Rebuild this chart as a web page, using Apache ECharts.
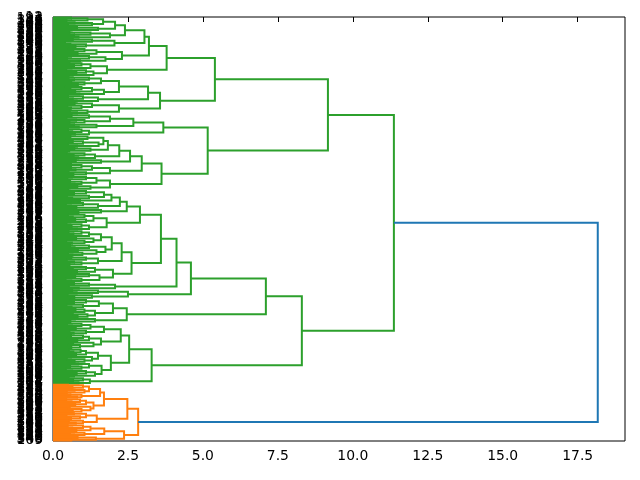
<!DOCTYPE html>
<html>
<head>
<meta charset="utf-8">
<script src="https://cdn.jsdelivr.net/npm/echarts@6/dist/echarts.min.js"></script>
<style>
html, body { margin: 0; padding: 0; background: #fff; }
#chart { width: 640px; height: 480px; }
</style>
</head>
<body>
<div id="chart"></div>
<script>
// merge tree: [distance, upper child, lower child], leaves are sample ids
const pUpper = [2.4, [2.07, [1.67, [1.15, [0.6, 12, 191], [0.45, 326, 147]], [1.3, [0.72, 88, 267], [0.5, 184, 5]]], [1.5, [0.8, 71, 250], [0.62, 298, 119]]], [1.9, [1.25, [0.55, 54, 233], [0.7, 281, 102]], [0.85, 26, 205]]];
const pLower = [2.05, [1.3, [0.66, 63, 242], [0.4, 319, 140]], [1.1, [0.58, 8, 187], [0.75, 350, 171]]];
const qLower = [2.3, [1.45, [1.05, [0.5, 33, 212], [0.68, 337, 158]], [0.82, 97, 276]], [1.75, [1.2, [0.6, 223, 44], [0.47, 121, 300]], [0.9, 3, 182]]];
const rLower = [1.8, [1.25, [0.95, [0.55, 67, 246], [0.7, 329, 150]], [0.62, 19, 198]], [1.35, [1.1, [0.44, 112, 291], [0.78, 264, 85]], [0.66, 40, 219]]];
const sUpper = [2.2, [1.6, [1.2, [0.52, 135, 314], [0.7, 186, 7]], [1.05, [0.61, 61, 240], [0.83, 355, 176]]], [1.7, [1.3, [0.95, [0.4, 24, 203], [0.58, 272, 93]], [0.74, 156, 335]], [0.88, 48, 227]]];
const sLower = [1.5, [1.0, [0.5, 110, 289], [0.66, 181, 2]], [0.79, 79, 258]];
const tLower = [2.2, [1.3, [0.72, 128, 307], [0.95, [0.48, 36, 215], [0.6, 345, 166]]], [1.15, [0.56, 59, 238], [0.8, 269, 90]]];
const groupA1 = [5.4,
  [3.79, [3.2, [3.05, pUpper, pLower], qLower], rLower],
  [3.57, [3.17, sUpper, sLower], tLower]];

const uUpper = [2.68, [1.9, [1.2, [0.62, 17, 196], [0.45, 283, 104]], [1.05, [0.77, 143, 322], [0.55, 251, 72]]], [1.45, [0.7, 51, 230], [0.86, 309, 130]]];
const uLower = [1.2, [0.95, [0.5, 9, 188], [0.64, 347, 168]], [0.73, 115, 294]];
const vUpper = [2.57, [2.21, [1.83, [1.68, [1.15, [0.58, 81, 260], [0.42, 217, 38]], [1.52, [1.0, [0.66, 154, 333], [0.5, 201, 22]], [0.8, 65, 244]]], [1.25, [0.71, 107, 286], [0.54, 354, 175]]], [1.4, [1.05, [0.46, 46, 225], [0.69, 316, 137]], [0.84, 14, 193]]], [1.6, [0.76, 98, 277], [0.6, 236, 57]]];
const vMid = [1.9, [1.3, [0.95, [0.44, 29, 208], [0.6, 324, 145]], [0.75, 86, 265]], [1.1, [0.52, 120, 299], [0.68, 183, 4]]];
const vLower = [1.9, [1.45, [1.1, [0.63, 68, 247], [0.48, 338, 159]], [0.95, [0.57, 11, 190], [0.72, 310, 131]]], [1.25, [0.81, 95, 274], [0.5, 221, 42]]];
const groupA2 = [5.16, [3.68, uUpper, uLower], [3.62, [2.96, vUpper, vMid], vLower]];

const wUpper = [2.46, [2.23, [1.95, [1.7, [1.1, [0.55, 60, 239], [0.7, 352, 173]], [1.2, [0.47, 27, 206], [0.64, 288, 109]]], [0.9, 149, 328]], [1.5, [1.0, [0.6, 35, 214], [0.43, 305, 126]], [0.78, 6, 185]]], [1.6, [0.67, 92, 271], [0.85, 346, 167]]];
const wLower = [1.79, [1.35, [1.05, [0.5, 52, 231], [0.66, 317, 138]], [1.1, [0.74, 16, 195], [0.58, 262, 83]]], [1.2, [0.95, [0.45, 118, 297], [0.62, 243, 64]], [0.8, 31, 210]]];
const xUpper = [2.29, [1.96, [1.6, [1.2, [0.95, [0.52, 77, 256], [0.68, 331, 152]], [0.6, 13, 192]], [1.35, [0.77, 100, 279], [1.05, [0.44, 41, 220], [0.63, 349, 170]]]], [1.75, [1.2, [0.57, 124, 303], [0.72, 234, 55]], [1.45, [0.83, 89, 268], [0.98, [0.5, 180, 1], [0.65, 146, 325]]]]], [1.5, [1.1, [0.61, 66, 245], [0.46, 312, 133]], [0.95, [0.7, 23, 202], [0.55, 293, 114]]]];
const xLower = [2.0, [1.4, [1.1, [0.48, 45, 224], [0.66, 341, 162]], [0.8, 91, 270]], [1.55, [1.2, [0.59, 20, 199], [0.74, 306, 127]], [0.95, [0.42, 70, 249], [0.61, 332, 153]]]];
const yTail = [2.07, [1.2, [0.7, 37, 216], [0.53, 287, 108]], [0.86, 164, 343]];
const zTail = [2.5, [1.5, [0.64, 82, 261], [0.79, 323, 144]], [1.3, [0.49, 10, 189], [0.71, 278, 99]]];
const bUpper = [2.0, [1.53, [1.1, [0.56, 58, 237], [0.7, 315, 136]], [1.0, [0.45, 25, 204], [0.62, 353, 174]]], [1.4, [1.05, [0.75, 117, 296], [0.51, 228, 49]], [1.15, [0.66, 87, 266], [0.82, 194, 15]]]];
const bLower = [1.4, [0.73, 139, 318], [0.58, 241, 62]];
const cUpper = [2.26, [1.7, [1.25, [0.95, [0.47, 74, 253], [0.63, 339, 160]], [0.76, 32, 211]], [1.1, [0.55, 105, 284], [0.69, 232, 53]]], [1.6, [1.2, [1.0, [0.6, 141, 320], [0.44, 197, 18]], [0.81, 96, 275]], [1.35, [0.67, 69, 248], [0.9, [0.5, 178, 357], [0.61, 179, 0]]]]];
const cLower = [1.93, [1.5, [1.1, [0.92, [0.53, 84, 263], [0.68, 334, 155]], [0.77, 28, 207]], [1.3, [0.6, 113, 292], [1.05, [0.46, 47, 226], [0.72, 311, 132]]]], [1.62, [1.2, [0.84, 76, 255], [0.95, [0.57, 151, 330], [0.43, 200, 21]]], [1.4, [1.1, [0.64, 101, 280], [0.79, 218, 39]], [0.7, 125, 304]]]];
const cTail = [1.23, [1.0, [0.52, 56, 235], [0.67, 321, 142]], [0.85, 94, 273]];
const groupB = [8.3,
  [7.1, [4.6, [4.12, [3.6, [2.9, wUpper, wLower], [2.62, xUpper, xLower]], yTail], zTail], [2.46, bUpper, bLower]],
  [3.29, [2.54, cUpper, cLower], cTail]];

const greenTree = [11.37, [9.17, groupA1, groupA2], groupB];

const oUpper = [1.7, [1.57, [1.2, [1.0, [0.5, 116, 295], [0.65, 222, 43]], [1.05, [0.72, 157, 336], [0.46, 252, 73]]], [0.95, [0.58, 34, 213], [0.8, 308, 129]]], [1.35, [1.1, [0.9, [0.44, 80, 259], [0.62, 344, 165]], [0.74, 50, 229]], [1.25, [0.56, 103, 282], [0.95, [0.48, 148, 327], [0.66, 301, 122]]]]];
const oMid = [1.46, [1.1, [0.7, 134, 313], [0.9, [0.45, 78, 257], [0.6, 290, 111]]], [1.0, [0.53, 30, 209], [0.76, 342, 163]]];
const oLow = [1.71, [1.25, [1.0, [0.49, 106, 285], [0.64, 351, 172]], [0.78, 75, 254]], [1.05, [0.57, 123, 302], [0.7, 356, 177]]];
const oTail = [1.43, [0.82, 161, 340], [0.61, 348, 169]];
const orangeTree = [2.84, [2.48, oUpper, oMid], [2.37, oLow, oTail]];

const rootHeight = 18.17;
const xTicks = [0, 2.5, 5, 7.5, 10, 12.5, 15, 17.5];
const linkColors = ['#2ca02c', '#ff7f0e', '#1f77b4'];

// lay out leaves top to bottom, 10 units apart like scipy
const leafLabels = [];
const links = [];
function place(node, color) {
  if (!Array.isArray(node)) {
    leafLabels.push(String(node));
    return { h: 0, y: 5 + 10 * (leafLabels.length - 1) };
  }
  const a = place(node[1], color);
  const b = place(node[2], color);
  links.push([a.h, a.y, node[0], b.y, b.h, color]);
  return { h: node[0], y: (a.y + b.y) / 2 };
}
const g = place(greenTree, 0);
const o = place(orangeTree, 1);
links.push([g.h, g.y, rootHeight, o.y, o.h, 2]);

const chart = echarts.init(document.getElementById('chart'));
const font = 'DejaVu Sans';
chart.setOption({
  animation: false,
  grid: { left: 53, right: 15, top: 17, bottom: 39, show: true, borderColor: '#000', borderWidth: 1 },
  xAxis: {
    type: 'value', min: 0, max: rootHeight * 1.05,
    axisLine: { show: false },
    splitLine: { show: false },
    axisTick: { show: true, length: 5, lineStyle: { color: '#000' }, customValues: xTicks },
    axisLabel: { color: '#000', fontFamily: font, fontSize: 13.9, margin: 8, customValues: xTicks,
      formatter: v => v.toFixed(1) }
  },
  yAxis: [
    {
      type: 'value', min: 0, max: 10 * leafLabels.length, inverse: true,
      axisLine: { show: false }, axisTick: { show: false },
      axisLabel: { show: false }, splitLine: { show: false }
    },
    {
      type: 'category', data: leafLabels, inverse: true, position: 'left',
      axisLine: { show: false }, axisTick: { show: false }, splitLine: { show: false },
      axisLabel: { interval: 0, color: '#000', fontFamily: font, fontSize: 13.9, margin: 10 }
    }
  ],
  series: [{
    type: 'custom',
    xAxisIndex: 0, yAxisIndex: 0,
    data: links,
    renderItem: function (params, api) {
      const p1 = api.coord([api.value(0), api.value(1)]);
      const p2 = api.coord([api.value(2), api.value(1)]);
      const p3 = api.coord([api.value(2), api.value(3)]);
      const p4 = api.coord([api.value(4), api.value(3)]);
      return {
        type: 'polyline',
        shape: { points: [p1, p2, p3, p4] },
        style: { stroke: linkColors[api.value(5)], fill: null, lineWidth: 2 }
      };
    }
  }]
});
</script>
</body>
</html>
